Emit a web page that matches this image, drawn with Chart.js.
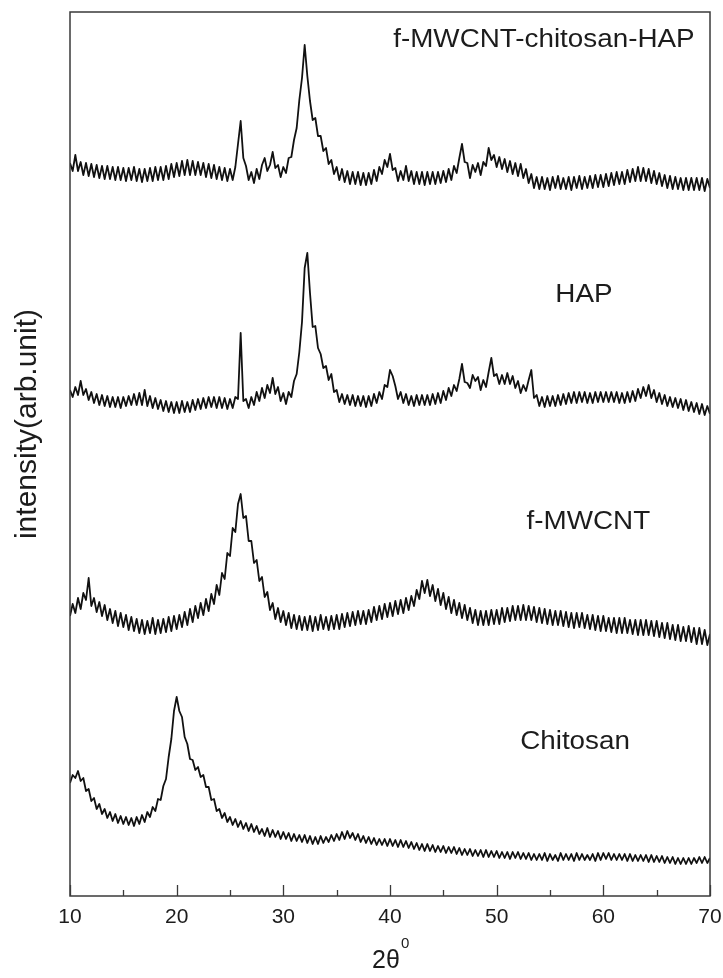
<!DOCTYPE html>
<html>
<head>
<meta charset="utf-8">
<script src="https://cdn.jsdelivr.net/npm/chart.js@4.4.1/dist/chart.umd.min.js"></script>
<style>
  html, body { margin: 0; padding: 0; background: #fff; }
</style>
</head>
<body>
<canvas id="xrd" width="723" height="978"></canvas>
<script>
// 2θ grid of the scans: 10° .. 70°, one reading every 0.25°
const START = 10;
const STEP = 0.25;

const xTicks = [10, 20, 30, 40, 50, 60, 70];
const xMinorTicks = [15, 25, 35, 45, 55, 65];

const seriesNames = ['f-MWCNT-chitosan-HAP', 'HAP', 'f-MWCNT', 'Chitosan'];

// intensities (arb. units, offset traces); two degrees per line
const composite = [
    733, 725, 741, 725,  734, 721, 733, 720,
    732, 719, 731, 718,  730, 717, 730, 717,
    729, 716, 729, 716,  728, 715, 728, 716,
    729, 715, 727, 714,  727, 715, 728, 715,
    729, 716, 729, 716,  730, 717, 732, 719,
    733, 720, 735, 721,  736, 721, 735, 721,
    734, 721, 733, 719,  732, 718, 731, 717,
    729, 716, 728, 715,  727, 716, 729, 752,
    775, 738, 730, 716,  724, 713, 727, 717,
    731, 738, 725, 731,  744, 728, 731, 719,
    729, 723, 738, 739,  756, 768, 796, 818,
    851, 820, 795, 776,  778, 760, 760, 745,
    748, 732, 736, 722,  729, 716, 727, 714,
    725, 712, 724, 712,  724, 711, 723, 711,
    723, 712, 726, 715,  729, 722, 736, 729,
    742, 726, 728, 715,  725, 716, 730, 715,
    725, 712, 724, 712,  724, 711, 724, 712,
    724, 712, 724, 713,  725, 714, 727, 716,
    730, 723, 738, 752,  734, 733, 718, 731,
    724, 733, 721, 734,  730, 748, 736, 741,
    729, 739, 727, 737,  724, 735, 722, 733,
    720, 732, 718, 727,  713, 722, 708, 719,
    707, 719, 707, 718,  706, 719, 708, 720,
    707, 718, 707, 719,  706, 719, 708, 720,
    707, 719, 708, 720,  708, 721, 709, 721,
    709, 722, 710, 723,  711, 724, 712, 724,
    712, 726, 714, 727,  715, 729, 715, 728,
    715, 727, 713, 725,  712, 723, 710, 721,
    708, 720, 707, 719,  707, 718, 706, 718,
    706, 718, 706, 718,  706, 718, 705, 717,
    708
];

const hap = [
    506, 499, 509, 501,  515, 501, 507, 496,
    504, 493, 502, 491,  501, 490, 500, 489,
    499, 489, 499, 488,  499, 490, 500, 491,
    502, 491, 503, 491,  506, 490, 500, 488,
    498, 487, 496, 485,  495, 484, 494, 483,
    494, 483, 495, 484,  494, 484, 496, 486,
    497, 487, 498, 488,  499, 489, 499, 488,
    499, 488, 498, 487,  497, 488, 499, 497,
    563, 495, 497, 488,  499, 491, 504, 495,
    508, 498, 511, 503,  518, 502, 509, 495,
    503, 492, 504, 499,  515, 522, 544, 574,
    628, 643, 603, 569,  570, 548, 542, 528,
    530, 516, 522, 504,  506, 494, 502, 492,
    501, 491, 501, 490,  500, 490, 500, 489,
    500, 490, 502, 493,  504, 497, 511, 509,
    526, 520, 510, 497,  504, 493, 502, 491,
    500, 490, 501, 491,  501, 491, 501, 491,
    502, 492, 503, 493,  505, 496, 508, 500,
    511, 505, 517, 532,  514, 513, 508, 521,
    515, 519, 506, 516,  509, 524, 538, 520,
    522, 512, 521, 512,  523, 512, 520, 508,
    515, 503, 511, 505,  516, 526, 498, 501,
    490, 499, 489, 500,  490, 500, 490, 501,
    491, 502, 492, 503,  493, 504, 493, 504,
    494, 504, 493, 503,  493, 504, 494, 504,
    494, 504, 494, 504,  494, 504, 493, 503,
    493, 504, 494, 505,  495, 507, 498, 509,
    500, 511, 498, 506,  494, 503, 492, 501,
    490, 499, 489, 498,  488, 497, 486, 496,
    485, 494, 484, 493,  482, 492, 481, 490,
    482
];

const fMwcnt = [
    280, 292, 283, 298,  287, 303, 296, 318,
    290, 298, 284, 294,  280, 291, 276, 287,
    273, 285, 270, 283,  269, 281, 266, 279,
    265, 277, 263, 276,  262, 275, 263, 278,
    262, 276, 263, 277,  264, 279, 265, 280,
    267, 281, 269, 284,  271, 287, 274, 290,
    278, 293, 281, 297,  285, 302, 292, 311,
    301, 323, 317, 343,  340, 368, 364, 392,
    402, 378, 380, 355,  355, 333, 336, 315,
    319, 299, 304, 286,  293, 277, 288, 274,
    285, 271, 283, 268,  281, 267, 280, 266,
    279, 266, 280, 265,  279, 266, 281, 267,
    279, 266, 280, 267,  281, 267, 282, 269,
    283, 270, 284, 271,  285, 272, 285, 272,
    286, 274, 289, 276,  290, 277, 292, 279,
    293, 280, 295, 282,  296, 283, 298, 286,
    300, 290, 306, 297,  315, 303, 316, 300,
    311, 295, 307, 291,  303, 287, 299, 283,
    296, 281, 293, 278,  291, 276, 288, 273,
    286, 271, 285, 271,  285, 271, 286, 272,
    286, 272, 288, 274,  288, 275, 290, 276,
    290, 276, 291, 276,  290, 276, 289, 274,
    288, 273, 287, 272,  286, 271, 285, 271,
    285, 270, 284, 269,  283, 268, 283, 269,
    283, 268, 281, 267,  281, 266, 280, 265,
    280, 265, 278, 264,  278, 263, 278, 263,
    278, 263, 276, 262,  276, 261, 276, 261,
    276, 261, 275, 260,  275, 259, 273, 258,
    273, 257, 271, 256,  271, 255, 269, 255,
    270, 254, 268, 252,  268, 252, 266, 251,
    262
];

const chitosan = [
    113, 121, 118, 125,  115, 118, 105, 107,
    95, 98, 87, 92,      82, 87, 78, 84,
    75, 82, 73, 80,      72, 79, 71, 78,
    70, 79, 72, 81,      74, 84, 79, 89,
    85, 97, 96, 110,     117, 139, 157, 185,
    199, 185, 179, 159,  152, 137, 136, 126,
    129, 119, 121, 109,  109, 96, 97, 85,
    87, 78, 83, 74,      79, 71, 77, 69,
    75, 67, 73, 65,      72, 64, 70, 62,
    67, 60, 68, 59,      66, 59, 65, 57,
    64, 57, 63, 55,      62, 55, 61, 54,
    61, 53, 60, 52,      59, 52, 60, 53,
    59, 54, 61, 55,      62, 56, 64, 57,
    65, 58, 63, 56,      62, 54, 60, 53,
    59, 52, 58, 51,      57, 51, 57, 50,
    57, 50, 56, 49,      56, 49, 55, 48,
    54, 47, 53, 46,      52, 45, 52, 45,
    51, 44, 50, 44,      50, 43, 49, 43,
    49, 42, 48, 41,      47, 41, 47, 40,
    46, 40, 46, 39,      46, 39, 45, 39,
    45, 38, 44, 38,      44, 37, 44, 38,
    44, 37, 43, 37,      43, 36, 42, 36,
    42, 36, 43, 35,      42, 36, 41, 35,
    43, 36, 42, 36,      42, 35, 43, 36,
    42, 36, 41, 36,      42, 35, 43, 36,
    43, 37, 43, 36,      42, 36, 42, 36,
    42, 35, 42, 35,      41, 35, 41, 35,
    41, 34, 41, 34,      40, 34, 40, 33,
    39, 33, 39, 32,      38, 32, 38, 32,
    38, 32, 38, 33,      39, 33, 39, 33,
    38
];

const FONT = "'Liberation Sans', Arial, sans-serif";
const INK = '#1c1c1c';

function toPoints(values) {
    return values.map((v, i) => ({ x: START + i * STEP, y: v }));
}

function trace(name, values) {
    return {
        label: name,
        data: toPoints(values),
        borderColor: '#111',
        borderWidth: 1.8,
        borderJoinStyle: 'round',
        pointRadius: 0,
        tension: 0,
        fill: false
    };
}

// frame, inward ticks, axis titles and the sample names
const decorations = {
    id: 'decorations',
    afterDraw(chart) {
        const { ctx, chartArea: a, scales: { x, y } } = chart;
        ctx.save();

        ctx.strokeStyle = '#3a3a3a';
        ctx.lineWidth = 1.5;
        ctx.strokeRect(a.left, a.top, a.right - a.left, a.bottom - a.top);

        ctx.lineWidth = 1.3;
        const tick = (v, len) => {
            const px = Math.round(x.getPixelForValue(v)) + 0.5;
            ctx.beginPath();
            ctx.moveTo(px, a.bottom);
            ctx.lineTo(px, a.bottom - len);
            ctx.stroke();
        };
        xTicks.forEach((v) => tick(v, 11));
        xMinorTicks.forEach((v) => tick(v, 6));

        ctx.fillStyle = INK;
        ctx.textBaseline = 'middle';

        // y title
        ctx.save();
        ctx.translate(28, 424);
        ctx.rotate(-Math.PI / 2);
        ctx.textAlign = 'center';
        ctx.font = '30px ' + FONT;
        ctx.fillText('intensity(arb.unit)', 0, 0);
        ctx.restore();

        // x title 2θ with superscript 0
        ctx.textAlign = 'left';
        ctx.font = '25px ' + FONT;
        const w = ctx.measureText('2θ').width;
        const cx = (a.left + a.right) / 2 - 4;
        ctx.fillText('2θ', cx - w / 2, 961);
        ctx.font = '15px ' + FONT;
        ctx.fillText('0', cx + w / 2 + 1, 944);

        // sample names, anchored at [2θ, intensity]
        const anchors = [[40.3, 856], [55.5, 601], [52.8, 374], [52.2, 154]];
        ctx.font = '26px ' + FONT;
        seriesNames.forEach((name, i) => {
            const px = x.getPixelForValue(anchors[i][0]);
            const py = y.getPixelForValue(anchors[i][1]);
            ctx.save();
            ctx.translate(px, py);
            ctx.scale(1.07, 1);
            ctx.fillText(name, 0, 0);
            ctx.restore();
        });

        ctx.restore();
    }
};

new Chart(document.getElementById('xrd'), {
    type: 'line',
    data: {
        datasets: [
            trace(seriesNames[0], composite),
            trace(seriesNames[1], hap),
            trace(seriesNames[2], fMwcnt),
            trace(seriesNames[3], chitosan)
        ]
    },
    options: {
        responsive: false,
        animation: false,
        devicePixelRatio: 1,
        layout: {
            padding: { left: 70, right: 13, top: 12, bottom: 0 }
        },
        plugins: {
            legend: { display: false },
            tooltip: { enabled: false }
        },
        scales: {
            x: {
                type: 'linear',
                min: 10,
                max: 70,
                afterFit: (scale) => {
                    scale.height = 82;
                    scale.paddingLeft = 0;
                    scale.paddingRight = 0;
                },
                afterBuildTicks: (scale) => { scale.ticks = xTicks.map((v) => ({ value: v })); },
                grid: { display: false, drawTicks: false },
                border: { display: false },
                ticks: {
                    font: { family: FONT, size: 21 },
                    color: INK,
                    padding: 9,
                    maxRotation: 0
                }
            },
            y: {
                display: false,
                min: 0,
                max: 884
            }
        }
    },
    plugins: [decorations]
});
</script>
</body>
</html>
